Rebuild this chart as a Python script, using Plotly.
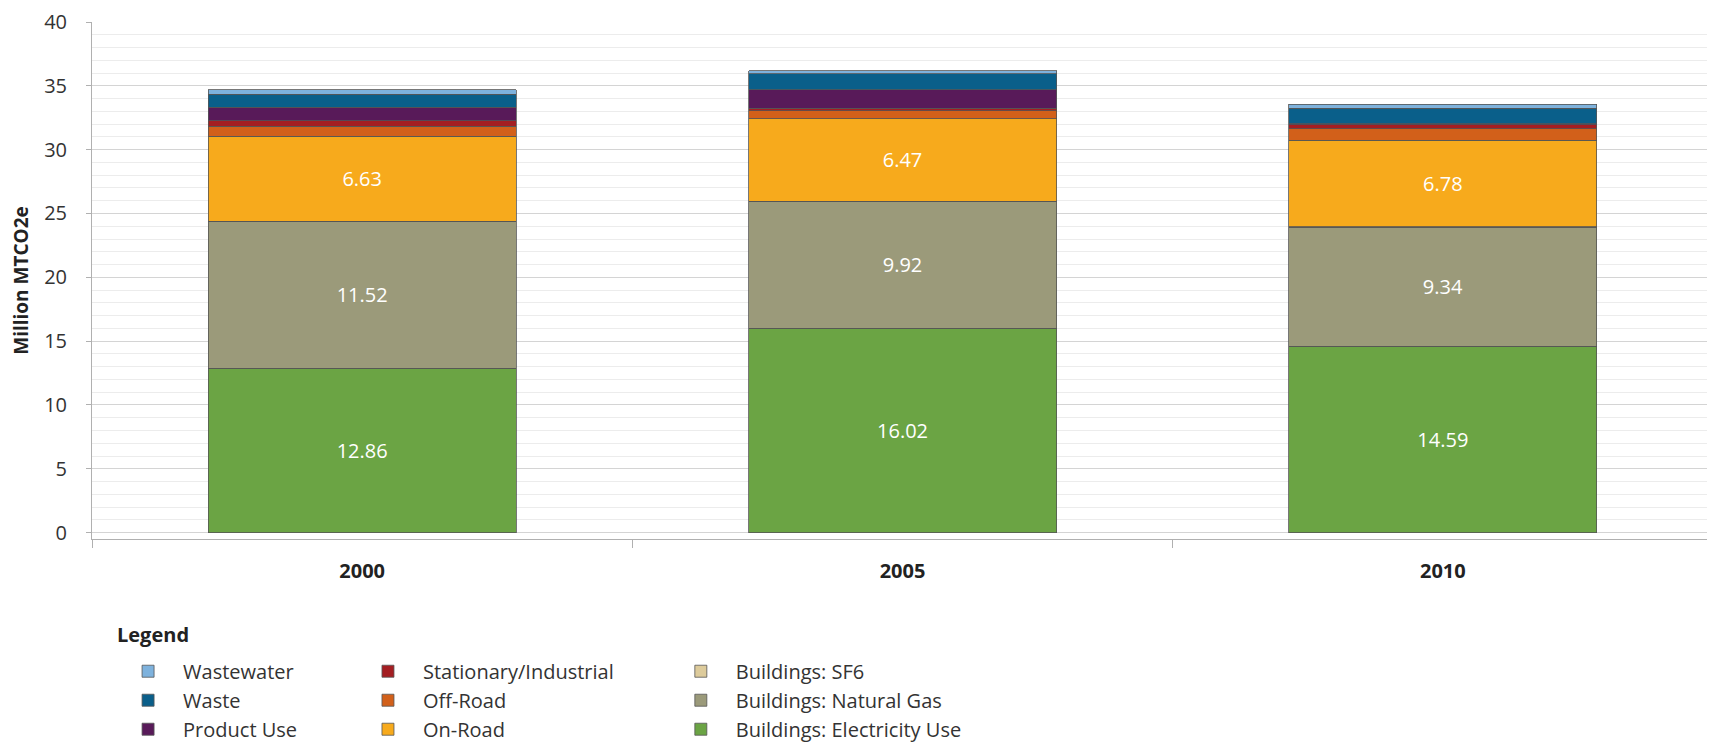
import plotly.graph_objects as go

# Years
years = ['2000', '2005', '2010']

# Emissions by sector (Million MTCO2e)
electricity = [12.86, 16.02, 14.59]
natural_gas = [11.52, 9.92, 9.34]
sf6 = [0.03, 0.03, 0.03]
on_road = [6.63, 6.47, 6.78]
off_road = [0.79, 0.59, 0.90]
stationary = [0.45, 0.21, 0.33]
product_use = [1.05, 1.45, 0.05]
waste = [1.00, 1.24, 1.21]
wastewater = [0.37, 0.27, 0.31]

# bottom to top: (name, values, colour, legend column, labelled)
sectors = [
    ('Buildings: Electricity Use', electricity, '#6BA444', 'legend3', True),
    ('Buildings: Natural Gas', natural_gas, '#9B9A7A', 'legend3', True),
    ('Buildings: SF6', sf6, '#DDCB9B', 'legend3', False),
    ('On-Road', on_road, '#F7AA1C', 'legend2', True),
    ('Off-Road', off_road, '#D2601A', 'legend2', False),
    ('Stationary/Industrial', stationary, '#A41E22', 'legend2', False),
    ('Product Use', product_use, '#581A59', 'legend', False),
    ('Waste', waste, '#0A5F8A', 'legend', False),
    ('Wastewater', wastewater, '#7EB2DD', 'legend', False),
]

font = 'Open Sans'

fig = go.Figure()
for name, vals, color, leg, labelled in sectors:
    fig.add_trace(go.Bar(
        x=years, y=vals, name=name, legend=leg, legendgroup=name,
        marker=dict(color=color, line=dict(color='#555555', width=0.8)),
        text=[f'{v:.2f}' for v in vals] if labelled else None,
        textposition='inside' if labelled else 'none',
        insidetextanchor='middle', textangle=0,
        textfont=dict(color='white', size=20, family=font),
        hoverinfo='name+y',
    ))

# totals above each bar
totals = [sum(s[1][i] for s in sectors) for i in range(len(years))]
for yr, tot in zip(years, totals):
    fig.add_annotation(x=yr, y=tot, text=f'{tot:.2f}', showarrow=False,
                       yshift=24, bgcolor='white',
                       font=dict(size=20, color='#333333', family=font))

fig.add_annotation(xref='paper', yref='paper', x=0.0142, y=-0.1855,
                   xanchor='left', yanchor='middle', text='<b>Legend</b>',
                   showarrow=False, font=dict(size=20, color='#222222', family=font))

leg_style = dict(orientation='v', yanchor='top', y=-0.2157, xanchor='left',
                 traceorder='reversed', itemwidth=60, bgcolor='rgba(0,0,0,0)',
                 tracegroupgap=5,
                 font=dict(size=20, color='#333333', family=font))

# page body adds an 8px offset, so the figure is 8px smaller and shifted up/left
fig.update_layout(
    barmode='stack',
    bargap=0.43,
    width=1707, height=741,
    margin=dict(l=84, r=2, t=14, b=209),
    plot_bgcolor='white', paper_bgcolor='white',
    font=dict(family=font, color='#333333'),
    legend=dict(x=0.013, **leg_style),
    legend2=dict(x=0.161, **leg_style),
    legend3=dict(x=0.354, **leg_style),
)

fig.update_yaxes(
    range=[-0.5, 40], dtick=5, tick0=0,
    showgrid=True, gridcolor='#d4d4d4', gridwidth=1,
    minor=dict(dtick=1, showgrid=True, gridcolor='#ececec'),
    showline=True, linecolor='#b0b0b0',
    ticks='outside', ticklen=5, tickcolor='#b0b0b0', ticklabelstandoff=15,
    zeroline=False, automargin=False,
    tickfont=dict(size=20, color='#333333'),
    title=dict(text='<b>Million MTCO2e</b>', font=dict(size=19, color='#222222'), standoff=14),
)
fig.update_xaxes(
    type='category', range=[-0.5, len(years) - 0.5], autorange=False,
    automargin=False,
    showline=True, linecolor='#b0b0b0',
    ticks='outside', tickson='boundaries', ticklen=8, tickcolor='#b0b0b0',
    ticklabelstandoff=14,
    tickfont=dict(size=20, color='#222222'),
    tickvals=years, ticktext=[f'<b>{y}</b>' for y in years],
)

fig.write_html('out.html')
